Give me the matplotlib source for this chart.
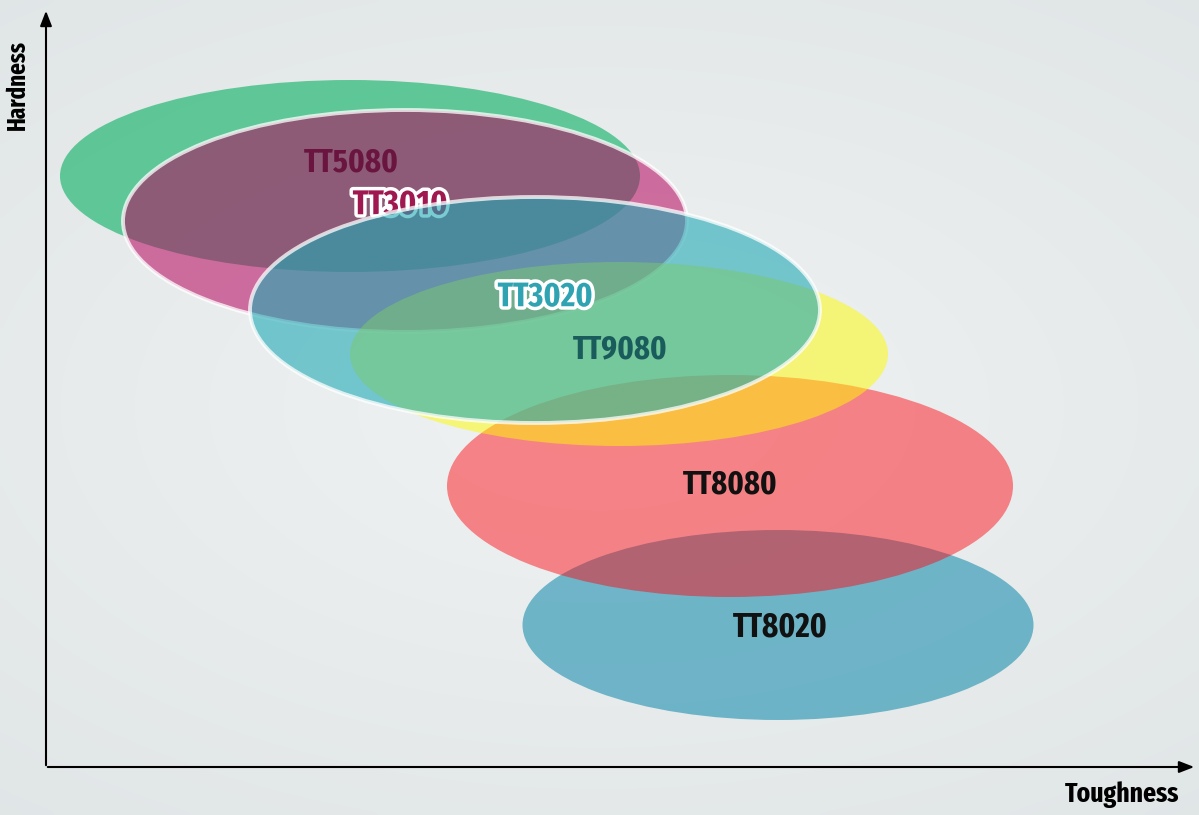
import numpy as np
import matplotlib.pyplot as plt
from matplotlib.patches import Ellipse
import matplotlib.patheffects as pe
from matplotlib import font_manager

# grade zones, in picture pixel units (x: toughness, y: hardness, y grows downward)
grades = ["TT5080", "TT3010", "TT8020", "TT8080", "TT9080", "TT3020"]
cx = [350, 405, 778, 730, 619, 535]
cy = [176, 221, 625, 486, 354, 310]
widths = [580, 564, 511, 566, 538, 570]
heights = [192, 222, 190, 222, 184, 226]
fills = ["#05b060", "#b5005b", "#1d8faf", "#ff070f", "#fefa00", "#20aab5"]
alphas = [0.6, 0.54, 0.6, 0.47, 0.5, 0.6]
outlined = [False, True, False, False, False, True]

# label positions and colours
lab_x = [351, 400, 780, 730, 620, 545]
lab_y = [163, 205, 627, 485, 350, 297]
lab_col = ["#6a1440", "#a01850", "#111111", "#111111", "#1a5c5c", "#2fa3b2"]
lab_halo = [False, True, False, False, False, True]


# pick the narrowest bold face available
def rank(f):
    n = f.name.lower().replace(" ", "")
    st = str(f.stretch).lower()
    if "extracondensed" in n or "extra-condensed" in st or "ultra" in st:
        return 0
    if "narrow" in n:
        return 1
    if "condensed" in n or "condensed" in st:
        return 2
    return 9


cands = [f for f in font_manager.fontManager.ttflist
         if f.weight in ("bold", 700, "semibold", 600) and f.style == "normal"]
cands.sort(key=rank)
if cands and rank(cands[0]) < 9:
    fp = dict(fname=cands[0].fname)
else:
    fp = dict(family="Lato", weight="bold")

fig = plt.figure(figsize=(11.99, 8.15), dpi=100)
ax = fig.add_axes([0, 0, 1, 1])
ax.set_xlim(0, 1199)
ax.set_ylim(815, 0)
ax.axis("off")

# brushed-metal-ish background: soft radial gradient
gx, gy = np.meshgrid(np.linspace(-1, 1, 240), np.linspace(-1, 1, 160))
r = np.sqrt((gx * 0.9) ** 2 + (gy * 1.1) ** 2)
shade = np.clip(1 - 0.35 * r, 0, 1)
c0 = np.array([0.82, 0.85, 0.86])
c1 = np.array([0.94, 0.95, 0.95])
bg = c0 + (c1 - c0) * shade[..., None]
ax.imshow(bg, extent=(0, 1199, 815, 0), aspect="auto", zorder=0, interpolation="bicubic")

z = 2
for i in range(len(grades)):
    e = Ellipse((cx[i], cy[i]), widths[i], heights[i], facecolor=fills[i],
                alpha=alphas[i], edgecolor="none", zorder=z)
    ax.add_patch(e)
    if outlined[i]:
        ax.add_patch(Ellipse((cx[i], cy[i]), widths[i], heights[i], facecolor="none",
                             edgecolor=(1, 1, 1, 0.75), linewidth=2.8, zorder=z + 0.5))
    z += 1

texts = []
for i in range(len(grades)):
    # TT3010 label sits under the TT3020 zone
    if grades[i] == "TT3010":
        zz = 6.5
    else:
        zz = 20
    t = ax.text(lab_x[i], lab_y[i], grades[i], color=lab_col[i],
                fontproperties=font_manager.FontProperties(size=24, **fp),
                ha="center", va="center", zorder=zz)
    if lab_halo[i]:
        t.set_path_effects([pe.Stroke(linewidth=5, foreground="white"), pe.Normal()])
    texts.append((t, 95, 0))

# axes with arrows
ax.annotate("", xy=(46, 8), xytext=(46, 768),
            arrowprops=dict(arrowstyle="-|>,head_length=0.9,head_width=0.35", color="black", lw=1.5),
            zorder=30)
ax.annotate("", xy=(1197, 767), xytext=(45, 767),
            arrowprops=dict(arrowstyle="-|>,head_length=0.9,head_width=0.35", color="black", lw=1.5),
            zorder=30)

th = ax.text(18, 85, "Hardness", rotation=90, color="black", ha="center", va="center", zorder=30,
             fontproperties=font_manager.FontProperties(size=18, **fp))
tt = ax.text(1122, 795, "Toughness", color="black", ha="center", va="center", zorder=30,
             fontproperties=font_manager.FontProperties(size=18, **fp))
texts.append((th, 90, 1))
texts.append((tt, 114, 0))

# fit the text sizes to the lengths seen in the picture
fig.canvas.draw()
rend = fig.canvas.get_renderer()
for t, target, vertical in texts:
    bb = t.get_window_extent(rend)
    w = bb.height if vertical else bb.width
    t.set_fontsize(t.get_fontsize() * target / w)

fig.savefig("out.png", dpi=100)
